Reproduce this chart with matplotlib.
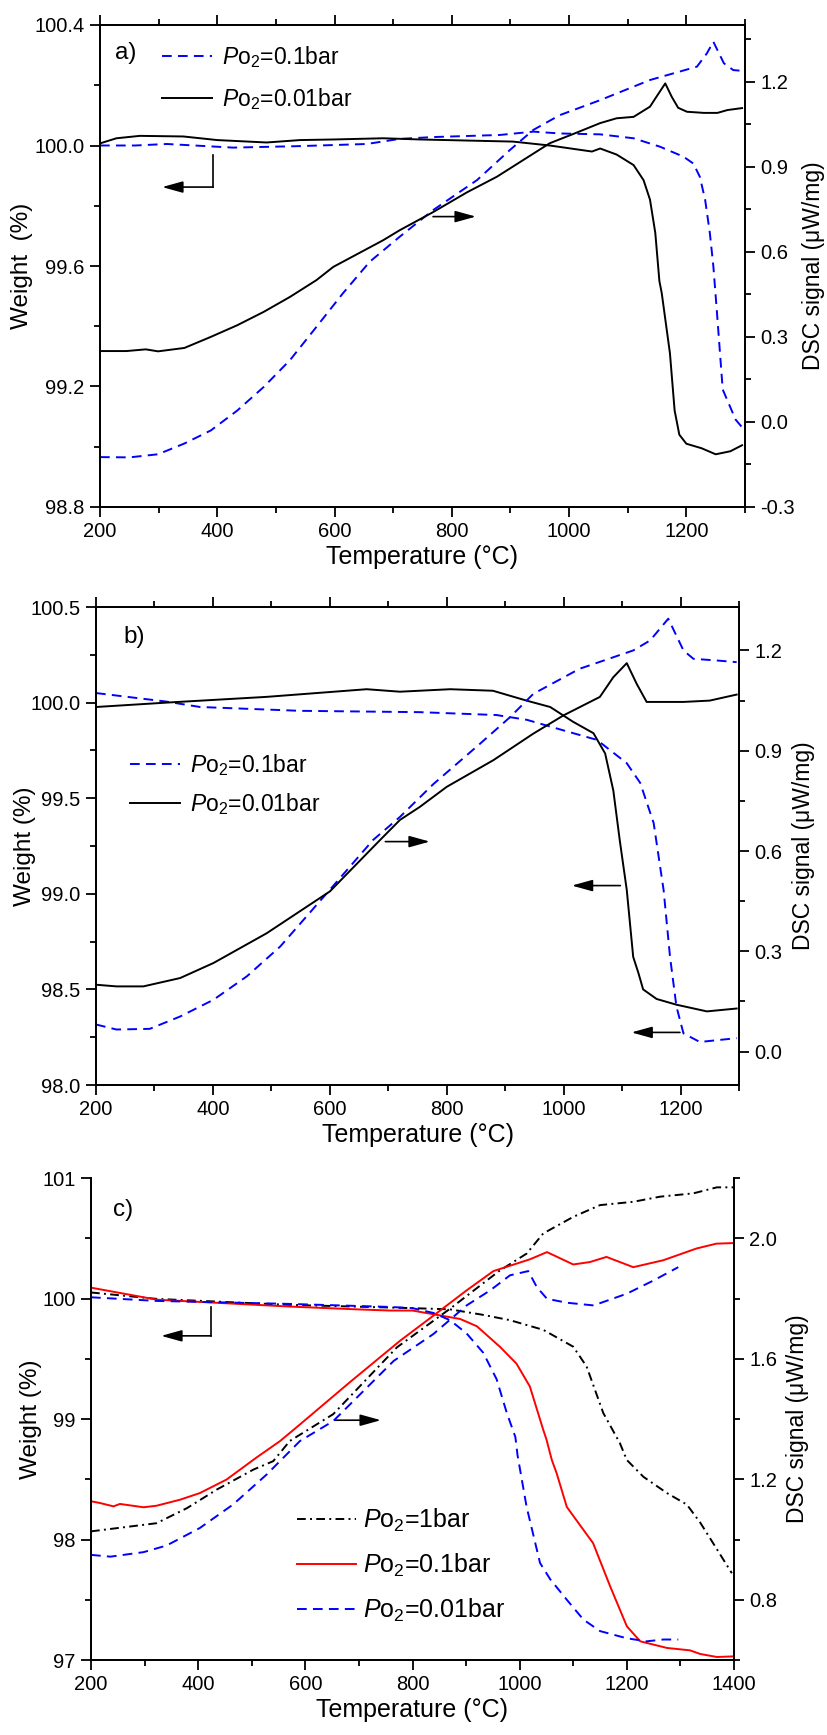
import matplotlib
matplotlib.use('Agg')
import matplotlib.pyplot as plt
from matplotlib.ticker import MultipleLocator, FormatStrFormatter

plt.rcParams['font.family'] = ['Liberation Sans', 'DejaVu Sans']
plt.rcParams['mathtext.fontset'] = 'custom'
plt.rcParams['mathtext.rm'] = 'Liberation Sans'
plt.rcParams['mathtext.it'] = 'Liberation Sans:italic'
plt.rcParams['axes.linewidth'] = 1.3

# ---------------- data: panel a ----------------
a_T_w01 = [200, 260, 314, 427, 541, 655, 711, 768, 882, 939, 984, 1053, 1110, 1155, 1195,
           1212, 1223, 1232, 1240, 1246, 1252, 1262, 1284, 1297]
a_w01 = [100.0, 100.0, 100.005, 99.993, 99.998, 100.005, 100.022, 100.028, 100.035, 100.046,
         100.04, 100.037, 100.024, 99.996, 99.963, 99.94, 99.896, 99.82, 99.71, 99.6, 99.45,
         99.19, 99.09, 99.06]
a_T_w001 = [200, 228, 268, 342, 400, 484, 541, 598, 683, 746, 904, 967, 1039, 1053, 1081, 1110,
            1127, 1138, 1147, 1154, 1158, 1172, 1180, 1188, 1200, 1226, 1250, 1275, 1295]
a_w001 = [100.007, 100.024, 100.032, 100.03, 100.018, 100.01, 100.018, 100.02, 100.024, 100.02,
          100.013, 100.0, 99.98, 99.99, 99.97, 99.935, 99.885, 99.82, 99.71, 99.55, 99.51, 99.31,
          99.12, 99.04, 99.01, 98.995, 98.975, 98.985, 99.005]
a_T_d01 = [200, 250, 299, 344, 389, 434, 479, 524, 569, 614, 660, 711, 768, 843, 899, 939, 984,
           1053, 1138, 1218, 1235, 1246, 1264, 1280, 1291]
a_d01 = [-0.124, -0.125, -0.114, -0.076, -0.03, 0.04, 0.123, 0.218, 0.335, 0.453, 0.565, 0.653,
         0.747, 0.853, 0.959, 1.03, 1.082, 1.135, 1.206, 1.253, 1.30, 1.341, 1.265, 1.241, 1.239]
a_T_d001 = [200, 245, 278, 299, 344, 389, 434, 479, 524, 569, 598, 683, 711, 768, 826, 877, 922,
            967, 1010, 1053, 1081, 1110, 1138, 1149, 1164, 1175, 1186, 1201, 1230, 1253, 1270, 1295]
a_d001 = [0.25, 0.25, 0.256, 0.249, 0.261, 0.30, 0.341, 0.388, 0.441, 0.50, 0.547, 0.641, 0.676,
          0.74, 0.81, 0.865, 0.924, 0.983, 1.018, 1.054, 1.071, 1.076, 1.112, 1.147, 1.194,
          1.147, 1.108, 1.094, 1.09, 1.09, 1.10, 1.107]

# ---------------- data: panel b ----------------
b_T_w01 = [200, 321, 378, 549, 754, 885, 937, 1005, 1057, 1108, 1131, 1154, 1171, 1182, 1193,
           1205, 1233, 1296]
b_w01 = [100.05, 100.005, 99.977, 99.957, 99.95, 99.935, 99.91, 99.85, 99.805, 99.683, 99.58,
         99.37, 99.02, 98.67, 98.41, 98.27, 98.225, 98.245]
b_T_w001 = [200, 321, 492, 663, 720, 806, 879, 937, 977, 1016, 1051, 1071, 1085, 1096, 1108,
            1119, 1128, 1136, 1159, 1193, 1245, 1296]
b_w001 = [99.977, 100.0, 100.03, 100.07, 100.057, 100.07, 100.062, 100.01, 99.977, 99.9, 99.84,
          99.734, 99.54, 99.28, 99.02, 98.67, 98.585, 98.50, 98.45, 98.42, 98.385, 98.4]
b_T_d01 = [200, 235, 292, 344, 401, 458, 515, 600, 674, 720, 777, 857, 908, 948, 1027, 1119,
           1148, 1179, 1205, 1222, 1262, 1296]
b_d01 = [0.081, 0.066, 0.068, 0.105, 0.155, 0.225, 0.314, 0.484, 0.633, 0.702, 0.80, 0.921,
         1.0, 1.07, 1.145, 1.2, 1.23, 1.295, 1.2, 1.175, 1.17, 1.165]
b_T_d001 = [200, 235, 281, 344, 401, 492, 600, 686, 720, 754, 800, 880, 948, 1000, 1062, 1085,
            1108, 1125, 1142, 1205, 1250, 1296]
b_d001 = [0.2, 0.195, 0.195, 0.22, 0.265, 0.354, 0.479, 0.633, 0.693, 0.732, 0.792, 0.872, 0.951,
          1.006, 1.061, 1.12, 1.162, 1.10, 1.046, 1.046, 1.05, 1.068]

# ---------------- data: panel c ----------------
c_T_w1 = [200, 322, 571, 758, 800, 870, 932, 982, 1044, 1100, 1125, 1156, 1187, 1200, 1231, 1275,
          1312, 1337, 1368, 1396]
c_w1 = [100.05, 99.997, 99.947, 99.925, 99.92, 99.91, 99.864, 99.82, 99.74, 99.60, 99.435, 99.05,
        98.80, 98.66, 98.52, 98.385, 98.29, 98.14, 97.92, 97.72]
c_T_w01 = [200, 323, 428, 571, 696, 758, 800, 889, 920, 963, 994, 1019, 1044, 1050, 1060, 1069,
           1088, 1119, 1137, 1169, 1200, 1225, 1275, 1318, 1337, 1368, 1399]
c_w01 = [100.09, 99.99, 99.966, 99.933, 99.91, 99.9, 99.9, 99.83, 99.77, 99.6, 99.46, 99.27,
         98.91, 98.83, 98.66, 98.55, 98.27, 98.08, 97.97, 97.61, 97.28, 97.155, 97.10, 97.08, 97.05,
         97.025, 97.03]
c_T_w001 = [200, 322, 571, 758, 800, 839, 870, 901, 932, 957, 976, 992, 996, 1013, 1038, 1057,
            1088, 1119, 1150, 1200, 1237, 1268, 1296]
c_w001 = [100.01, 99.98, 99.955, 99.93, 99.92, 99.88, 99.82, 99.71, 99.55, 99.33, 99.05, 98.85,
          98.7, 98.27, 97.805, 97.67, 97.50, 97.335, 97.24, 97.18, 97.155, 97.17, 97.17]
c_T_d1 = [200, 322, 329, 379, 435, 503, 540, 571, 652, 771, 870, 963, 1013, 1044, 1100, 1150,
          1212, 1262, 1324, 1368, 1399]
c_d1 = [1.027, 1.054, 1.06, 1.104, 1.166, 1.232, 1.26, 1.327, 1.416, 1.638, 1.766, 1.893, 1.949,
        2.016, 2.071, 2.11, 2.121, 2.138, 2.149, 2.169, 2.169]
c_T_d01 = [200, 217, 242, 254, 298, 322, 366, 403, 453, 508, 553, 590, 683, 777, 839, 901, 951,
           1019, 1051, 1100, 1131, 1162, 1212, 1268, 1330, 1367, 1398]
c_d01 = [1.127, 1.121, 1.11, 1.118, 1.107, 1.112, 1.132, 1.154, 1.199, 1.271, 1.327, 1.382, 1.522,
         1.66, 1.743, 1.827, 1.891, 1.93, 1.954, 1.913, 1.921, 1.938, 1.904, 1.927, 1.966, 1.982,
         1.984]
c_T_d001 = [200, 236, 298, 341, 403, 465, 528, 590, 652, 765, 839, 901, 945, 982, 1016, 1032,
            1051, 1088, 1138, 1200, 1250, 1296]
c_d001 = [0.949, 0.943, 0.958, 0.98, 1.038, 1.116, 1.216, 1.327, 1.393, 1.593, 1.682, 1.777,
          1.827, 1.877, 1.891, 1.838, 1.799, 1.786, 1.777, 1.816, 1.86, 1.904]

lab1 = r'$P$o$_2$=1bar'
lab01 = r'$P$o$_2$=0.1bar'
lab001 = r'$P$o$_2$=0.01bar'

BLUE = '#0000ff'
RED = '#ff0000'
LW = 1.4
DASH = (0, (5, 3.2))
DASHDOT = (0, (4.5, 2.2, 1, 2.2))
TICK_FS = 14.5
XLABEL_FS = 18
WLABEL_FS = 17.5
DSC_FS = 16.5

W, H = 827, 1735
fig = plt.figure(figsize=(W / 100, H / 100), dpi=100)


def box(l, t, r, b):
    return [l / W, 1 - b / H, (r - l) / W, (b - t) / H]


def style(ax, ax2, wlab, wx, dx, top=True):
    for a in (ax, ax2):
        a.tick_params(which='major', direction='out', length=7, width=1.3,
                      labelsize=TICK_FS, pad=4)
        a.tick_params(which='minor', direction='out', length=4, width=1.3)
    ax.tick_params(axis='x', which='both', top=top, labeltop=False)
    ax.xaxis.set_minor_locator(MultipleLocator(100))
    ax.set_xlabel('Temperature (°C)', fontsize=XLABEL_FS, labelpad=3)
    ax.set_ylabel(wlab, fontsize=WLABEL_FS)
    ax.yaxis.set_label_coords(wx, 0.5)
    ax2.set_ylabel('DSC signal (μW/mg)', fontsize=DSC_FS)
    ax2.yaxis.set_label_coords(dx, 0.5)


def arrow(ax, x0, x1, y):
    ax.annotate('', xy=(x1, y), xytext=(x0, y),
                arrowprops=dict(arrowstyle='-|>,head_length=0.9,head_width=0.25',
                                color='k', lw=1.2, mutation_scale=14, shrinkA=0, shrinkB=0))


# ---------------- panel a ----------------
ax = fig.add_axes(box(100, 25, 745, 507))
ax2 = ax.twinx()
la1, = ax.plot(a_T_w01, a_w01, color=BLUE, lw=LW, ls=DASH)
la2, = ax.plot(a_T_w001, a_w001, color='k', lw=LW)
ax2.plot(a_T_d01, a_d01, color=BLUE, lw=LW, ls=DASH)
ax2.plot(a_T_d001, a_d001, color='k', lw=LW)
ax.set_xlim(200, 1300)
ax.set_ylim(98.8, 100.4)
ax2.set_ylim(-0.3, 1.4)
ax.set_xticks([200, 400, 600, 800, 1000, 1200])
ax.set_yticks([98.8, 99.2, 99.6, 100.0, 100.4])
ax.yaxis.set_minor_locator(MultipleLocator(0.2))
ax2.set_yticks([-0.3, 0.0, 0.3, 0.6, 0.9, 1.2])
ax2.yaxis.set_minor_locator(MultipleLocator(0.15))
ax.yaxis.set_major_formatter(FormatStrFormatter('%.1f'))
ax2.yaxis.set_major_formatter(FormatStrFormatter('%.1f'))
style(ax, ax2, 'Weight  (%)', -0.104, 1.088)
ax.text(0.023, 0.942, 'a)', transform=ax.transAxes, fontsize=17.5, va='center')
ax.legend([la1, la2], [lab01, lab001], loc='upper left', bbox_to_anchor=(0.096, 0.96),
          frameon=False, fontsize=16.5, handlelength=2.2, handletextpad=0.4,
          labelspacing=0.7, borderpad=0, borderaxespad=0)
ax.plot([393, 393], [99.968, 99.862], color='k', lw=1.2)
arrow(ax, 393, 306, 99.862)
arrow(ax, 768, 841, 99.764)

# ---------------- panel b ----------------
ax = fig.add_axes(box(96, 607, 739, 1085))
ax2 = ax.twinx()
lb1, = ax.plot(b_T_w01, b_w01, color=BLUE, lw=LW, ls=DASH)
lb2, = ax.plot(b_T_w001, b_w001, color='k', lw=LW)
ax2.plot(b_T_d01, b_d01, color=BLUE, lw=LW, ls=DASH)
ax2.plot(b_T_d001, b_d001, color='k', lw=LW)
ax.set_xlim(200, 1300)
ax.set_ylim(98.0, 100.5)
ax2.set_ylim(-0.1, 1.33)
ax.set_xticks([200, 400, 600, 800, 1000, 1200])
ax.set_yticks([98.0, 98.5, 99.0, 99.5, 100.0, 100.5])
ax.yaxis.set_minor_locator(MultipleLocator(0.25))
ax2.set_yticks([0.0, 0.3, 0.6, 0.9, 1.2])
ax2.yaxis.set_minor_locator(MultipleLocator(0.15))
ax.yaxis.set_major_formatter(FormatStrFormatter('%.1f'))
ax2.yaxis.set_major_formatter(FormatStrFormatter('%.1f'))
style(ax, ax2, 'Weight (%)', -0.094, 1.083)
ax.text(0.042, 0.938, 'b)', transform=ax.transAxes, fontsize=17.5, va='center')
ax.legend([lb1, lb2], [lab01, lab001], loc='upper left', bbox_to_anchor=(0.053, 0.697),
          frameon=False, fontsize=16.5, handlelength=2.2, handletextpad=0.4,
          labelspacing=0.6, borderpad=0, borderaxespad=0)
arrow(ax, 695, 771, 99.273)
arrow(ax, 1097, 1014, 99.043)
arrow(ax, 1199, 1116, 98.275)

# ---------------- panel c ----------------
ax = fig.add_axes(box(91, 1178, 734, 1660))
ax2 = ax.twinx()
lc1, = ax.plot(c_T_w1, c_w1, color='k', lw=LW, ls=DASHDOT)
lc2, = ax.plot(c_T_w01, c_w01, color=RED, lw=LW)
lc3, = ax.plot(c_T_w001, c_w001, color=BLUE, lw=LW, ls=DASH)
ax2.plot(c_T_d1, c_d1, color='k', lw=LW, ls=DASHDOT)
ax2.plot(c_T_d01, c_d01, color=RED, lw=LW)
ax2.plot(c_T_d001, c_d001, color=BLUE, lw=LW, ls=DASH)
ax.set_xlim(200, 1400)
ax.set_ylim(97, 101)
ax2.set_ylim(0.6, 2.2)
ax.set_xticks([200, 400, 600, 800, 1000, 1200, 1400])
ax.set_yticks([97, 98, 99, 100, 101])
ax.yaxis.set_minor_locator(MultipleLocator(0.5))
ax2.set_yticks([0.8, 1.2, 1.6, 2.0])
ax2.yaxis.set_minor_locator(MultipleLocator(0.2))
ax2.yaxis.set_major_formatter(FormatStrFormatter('%.1f'))
ax.spines['top'].set_visible(False)
ax2.spines['top'].set_visible(False)
style(ax, ax2, 'Weight (%)', -0.076, 1.081, top=False)
ax.text(0.034, 0.934, 'c)', transform=ax.transAxes, fontsize=17.5, va='center')
ax.legend([lc1, lc2, lc3], [lab1, lab01, lab001], loc='upper left',
          bbox_to_anchor=(0.32, 0.318), frameon=False, fontsize=18, handlelength=2.35,
          handletextpad=0.3, labelspacing=0.72, borderpad=0, borderaxespad=0)
ax.plot([424, 424], [99.93, 99.69], color='k', lw=1.2)
arrow(ax, 424, 331, 99.69)
arrow(ax, 655, 741, 98.99)

fig.savefig('out.png', dpi=100)
